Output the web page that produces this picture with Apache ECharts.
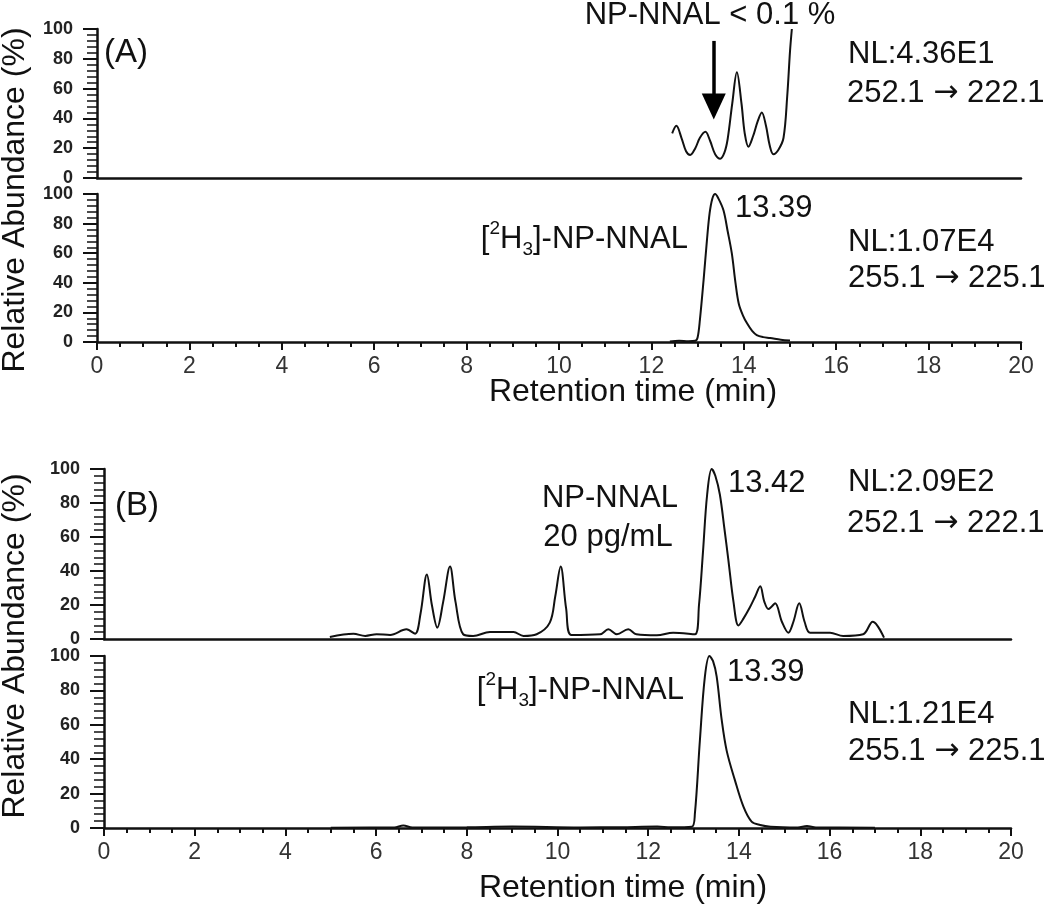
<!DOCTYPE html>
<html>
<head>
<meta charset="utf-8">
<script src="https://cdn.jsdelivr.net/npm/echarts@6/dist/echarts.min.js"></script>
<style>
html,body{margin:0;padding:0;background:#fff;}
#chart{width:1050px;height:912px;}
</style>
</head>
<body>
<div id="chart"></div>
<script>
// ---------- data (retention time in min, relative abundance in %) ----------
const xTickLabels = [0, 2, 4, 6, 8, 10, 12, 14, 16, 18, 20];
const yTickLabels = [0, 20, 40, 60, 80, 100];

// (A) upper trace: NP-NNAL 252.1 -> 222.1
const aTopTime  = [12.45, 12.54, 12.65, 12.75, 12.84, 12.95, 13.05, 13.17, 13.27, 13.38, 13.49, 13.58, 13.65, 13.75, 13.85, 13.95, 14.02, 14.10, 14.20, 14.30, 14.39, 14.48, 14.56, 14.64, 14.75, 14.86, 14.94, 15.00, 15.04];
const aTopAbund = [30,    35,    27,    18,    15.5,  20,    27,    31,    25,    16,    13,    17,    26,    50,    71,    50,    30,    21,    28,    38,    44,    35,    22,    16,    19,    27,    55,    85,    100];

// (A) lower trace: [2H3]-NP-NNAL 255.1 -> 225.1
const aBotTime  = [12.40, 12.60, 12.80, 12.95, 13.00, 13.05, 13.13, 13.20, 13.26, 13.32, 13.38, 13.45, 13.56, 13.65, 13.74, 13.82, 13.89, 13.98, 14.07, 14.18, 14.28, 14.42, 14.57, 14.80, 15.00];
const aBotAbund = [0.3,   0.8,   0.5,   0.8,   3,     15,    42,    68,    87,    97,    100,   97,    89,    75,    60,    40,    26,    18,    12.6,  7.5,   4.7,   3.3,   2.7,   1.5,   1];

// (B) upper trace: NP-NNAL 20 pg/mL 252.1 -> 222.1
const bTopTime  = [4.98, 5.50, 5.76, 6.01, 6.31, 6.67, 6.86, 6.98, 7.12, 7.23, 7.35, 7.48, 7.63, 7.75, 7.92, 8.14, 8.51, 9.03, 9.25, 9.54, 9.83, 9.95, 10.07, 10.19, 10.31, 10.94, 11.12, 11.31, 11.56, 11.74, 12.19, 12.55, 13.03, 13.12, 13.21, 13.30, 13.40, 13.48, 13.58, 13.68, 13.77, 13.88, 13.99, 14.10, 14.24, 14.36, 14.47, 14.56, 14.65, 14.72, 14.80, 14.95, 15.09, 15.20, 15.33, 15.45, 15.57, 16.01, 16.30, 16.74, 16.95, 17.20];
const bTopAbund = [1.2,  3.1,  1.8,  2.8,  2.4,  5.7,  3.1,  15,   38,   20,   6.7,  22,   42.6, 22,   2.8,  1.8,  4.1,  4.1,  1.8,  2.8,  9.6,  25,   42.6,  18,    2.4,   2.8,   5.7,   2.8,   5.7,   2.8,   2.2,   3.7,   2.8,   20,    52,    85,    100,   96,    85,    65,    46,    22,    8,     12,    18.5,  25,    31,    22,    17.6,  19,    21,    10,    3.7,   10,    21,    10,    3.7,   3.7,   1.8,   2.8,   10.2,  0.8];

// (B) lower trace: [2H3]-NP-NNAL 255.1 -> 225.1
const bBotTime  = [5.00, 6.40, 6.60, 6.80, 8.00, 9.00, 10.50, 11.40, 12.20, 12.50, 12.96, 13.03, 13.14, 13.25, 13.35, 13.43, 13.51, 13.62, 13.73, 13.91, 14.10, 14.28, 14.47, 14.70, 15.30, 15.50, 15.70, 17.00];
const bBotAbund = [0.2,  0.3,  1.5,  0.3,  0.4,  0.8,  0.3,   0.5,   0.8,   0.4,   0.7,   8.5,   51,    88,    100,   97,    88,    63,    45,    28,    12.4,  3.7,   1.7,   0.7,   0.3,   1.2,   0.3,   0.2];

// arrow marking NP-NNAL in (A): time, start and end abundance
const arrowTime = 13.35;
const arrowFrom = 92;
const arrowTo = 48;

// ---------- chart ----------
const pairs = (t, v) => t.map((x, i) => [x, v[i]]);
const FONT = '"Liberation Sans", Arial, Helvetica, sans-serif';
const INK = '#111';

function xAxisDef(gridIndex, full) {
  return {
    type: 'value', gridIndex, min: 0, max: 20, interval: 2,
    axisLine: { show: true, onZero: false, lineStyle: { color: INK, width: 2.5 } },
    axisTick: { show: full, length: 8, lineStyle: { color: INK, width: 2 } },
    minorTick: { show: full, splitNumber: 4, length: 5, lineStyle: { color: INK, width: 2 } },
    splitLine: { show: false },
    axisLabel: { show: full, margin: 13, fontSize: 23, color: '#333', fontFamily: FONT,
      formatter: v => xTickLabels.indexOf(v) >= 0 ? String(v) : '' }
  };
}
function yAxisDef(gridIndex) {
  return {
    type: 'value', gridIndex, min: 0, max: 100, interval: 20,
    axisLine: { show: true, lineStyle: { color: INK, width: 2.5 } },
    axisTick: { show: true, length: 14, lineStyle: { color: INK, width: 2 } },
    minorTick: { show: true, splitNumber: 5, length: 10, lineStyle: { color: INK, width: 1.5 } },
    splitLine: { show: false },
    axisLabel: { margin: 24, fontSize: 18, fontWeight: 'bold', color: '#222', fontFamily: FONT,
      formatter: v => yTickLabels.indexOf(v) >= 0 ? String(v) : '' }
  };
}
function trace(idx, data) {
  return {
    type: 'line', xAxisIndex: idx, yAxisIndex: idx, data,
    showSymbol: false, symbol: 'none', smooth: 0.35, clip: true,
    lineStyle: { color: INK, width: 2 }
  };
}
const SIZE = 31;
const arrowRich = { a: { fontFamily: '"DejaVu Sans", sans-serif', fontSize: 30, color: INK } };
function txt(x, y, text, size, align, extra) {
  return Object.assign({
    type: 'text', x, y,
    style: { text, font: size + 'px ' + FONT, fill: INK,
      align: align || 'left', verticalAlign: 'middle',
      textAlign: align || 'left', textVerticalAlign: 'middle',
      rich: arrowRich }
  }, extra || {});
}
function labelled(x, y, align) {
  return {
    type: 'text', x, y,
    style: {
      text: '[{sup|2}H{sub|3}]-NP-NNAL',
      font: SIZE + 'px ' + FONT, fill: INK,
      align: align, verticalAlign: 'middle', textAlign: align, textVerticalAlign: 'middle',
      lineHeight: 40,
      rich: {
        sup: { fontSize: 19, fontFamily: FONT, verticalAlign: 'top', lineHeight: 40, color: INK },
        sub: { fontSize: 19, fontFamily: FONT, verticalAlign: 'bottom', lineHeight: 40, color: INK }
      }
    }
  };
}

const aTop = trace(0, pairs(aTopTime, aTopAbund));
aTop.markLine = {
  silent: true, animation: false,
  symbol: ['none', 'triangle'], symbolSize: [24, 26],
  lineStyle: { color: '#000', width: 3.5, type: 'solid' },
  label: { show: false },
  data: [[{ coord: [arrowTime, arrowFrom] }, { coord: [arrowTime, arrowTo] }]]
};

const option = {
  animation: false,
  backgroundColor: '#fff',
  grid: [
    { left: 97, top: 29, width: 924, height: 149 },
    { left: 97, top: 194, width: 924, height: 148 },
    { left: 104, top: 469, width: 907, height: 170 },
    { left: 104, top: 656, width: 907, height: 172 }
  ],
  xAxis: [xAxisDef(0, false), xAxisDef(1, true), xAxisDef(2, false), xAxisDef(3, true)],
  yAxis: [yAxisDef(0), yAxisDef(1), yAxisDef(2), yAxisDef(3)],
  series: [
    aTop,
    trace(1, pairs(aBotTime, aBotAbund)),
    trace(2, pairs(bTopTime, bTopAbund)),
    trace(3, pairs(bBotTime, bBotAbund))
  ],
  graphic: [
    txt(15, 200, 'Relative Abundance (%)', 32, 'center', { rotation: Math.PI / 2 }),
    txt(15, 646, 'Relative Abundance (%)', 32, 'center', { rotation: Math.PI / 2 }),
    txt(633, 392, 'Retention time (min)', 32, 'center'),
    txt(623, 888, 'Retention time (min)', 32, 'center'),
    // panel A
    txt(104, 53, '(A)', 33),
    txt(710, 15, 'NP-NNAL < 0.1 %', SIZE, 'center'),
    txt(848, 54, 'NL:4.36E1', SIZE),
    txt(847, 93, '252.1 {a|\u2192} 222.1', SIZE),
    labelled(688, 239, 'right'),
    txt(735, 208, '13.39', SIZE),
    txt(848, 242, 'NL:1.07E4', SIZE),
    txt(848, 278, '255.1 {a|\u2192} 225.1', SIZE),
    // panel B
    txt(115, 506, '(B)', 33),
    txt(610, 498, 'NP-NNAL', SIZE, 'center'),
    txt(608, 537, '20 pg/mL', SIZE, 'center'),
    txt(728, 483, '13.42', SIZE),
    txt(848, 482, 'NL:2.09E2', SIZE),
    txt(847, 523, '252.1 {a|\u2192} 222.1', SIZE),
    labelled(684, 690, 'right'),
    txt(727, 672, '13.39', SIZE),
    txt(848, 714, 'NL:1.21E4', SIZE),
    txt(848, 751, '255.1 {a|\u2192} 225.1', SIZE)
  ]
};

const chart = echarts.init(document.getElementById('chart'), null, { renderer: 'canvas' });
chart.setOption(option);
</script>
</body>
</html>
